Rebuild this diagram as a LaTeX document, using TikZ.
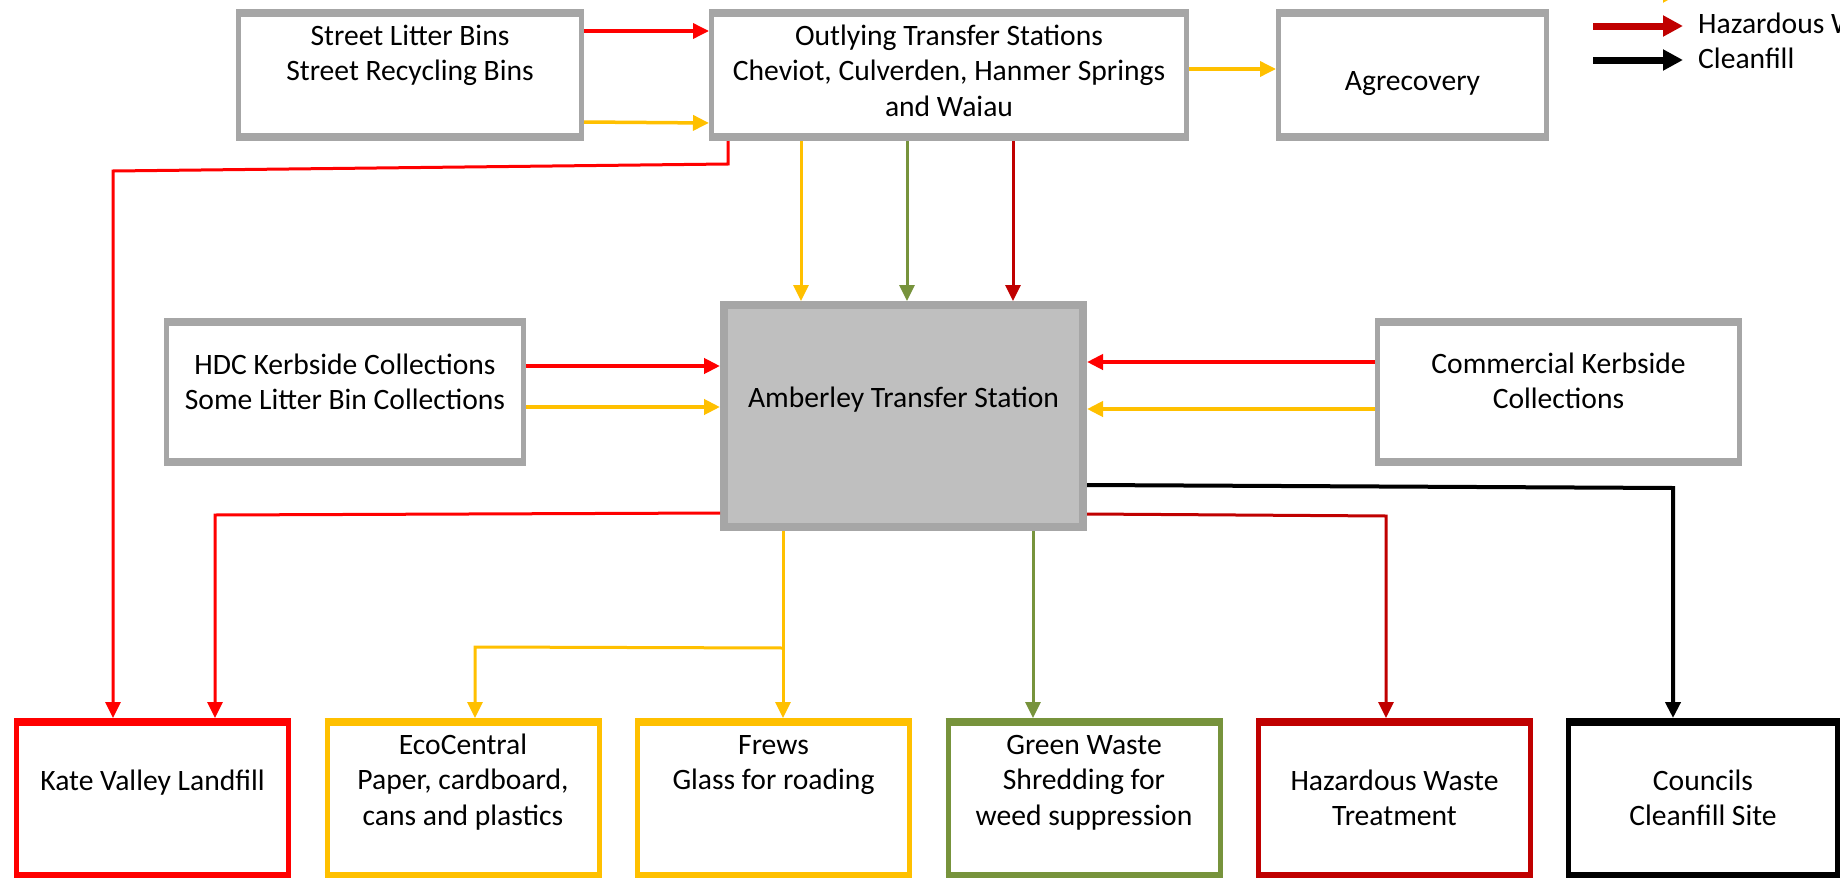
\documentclass[tikz,border=0pt]{standalone}
\usepackage{fontspec}
\setmainfont{Carlito}
\usetikzlibrary{arrows.meta}
\definecolor{boxgray}{HTML}{A6A6A6}
\definecolor{amberfill}{HTML}{BFBFBF}
\definecolor{redA}{HTML}{FF0000}
\definecolor{yelA}{HTML}{FFC000}
\definecolor{grnA}{HTML}{77933C}
\definecolor{dredA}{HTML}{C00000}
\tikzset{
  bars/.style={append after command={
    ([yshift=-4pt]\tikzlastnode.north west) edge[draw=#1,line width=8pt] ([yshift=-4pt]\tikzlastnode.north east)
    ([yshift=4pt]\tikzlastnode.south west) edge[draw=#1,line width=8pt] ([yshift=4pt]\tikzlastnode.south east)}},
  box/.style={rectangle, draw=#1, line width=5pt, inner sep=0pt, outer xsep=2.5pt, outer ysep=4pt, bars=#1},
  hubbox/.style={rectangle, draw=boxgray, fill=amberfill, line width=8pt, inner sep=0pt, outer sep=4pt},
  txt/.style={font=\fontsize{29.6pt}{35.5pt}\selectfont, align=center, inner sep=0pt, anchor=base},
  conn/.style={draw=#1, line width=3pt, -{Triangle[length=16pt,width=15pt]}},
  thick conn/.style={draw=#1, line width=4pt, -{Triangle[length=16pt,width=15pt]}},
  legarrow/.style={draw=#1, line width=7pt, -{Triangle[length=20pt,width=20pt]}}
}
\begin{document}
\begin{tikzpicture}[x=1pt,y=-1pt]
\useasboundingbox (0,0) rectangle (1840,878);
\fill[white] (0,0) rectangle (1840,878);
\clip (0,0) rectangle (1840,878);

% top row (text nodes: anchor base = baseline of last line)
\node[box=boxgray, minimum width=343pt, minimum height=124pt] (street) at (410,75) {};
\node[txt] (streetT) at (410,80.5) {Street Litter Bins\\Street Recycling Bins};
\node[box=boxgray, minimum width=475pt, minimum height=124pt] (outlying) at (949,75) {};
\node[txt] (outlyingT) at (949,116) {Outlying Transfer Stations\\Cheviot, Culverden, Hanmer Springs\\and Waiau};
\node[box=boxgray, minimum width=268pt, minimum height=124pt] (agre) at (1412.5,75) {};
\node[txt] (agreT) at (1412.5,90) {Agrecovery};

% middle row
\node[box=boxgray, minimum width=357pt, minimum height=140pt] (hdc) at (345,392) {};
\node[txt] (hdcT) at (345,409.5) {HDC Kerbside Collections\\Some Litter Bin Collections};
\node[hubbox, minimum width=359pt, minimum height=222pt] (amb) at (903.5,416) {};
\node[txt] (ambT) at (903.5,407) {Amberley Transfer Station};
\node[box=boxgray, minimum width=362pt, minimum height=140pt] (comm) at (1558.5,392) {};
\node[txt] (commT) at (1558.5,408.5) {Commercial Kerbside\\Collections};

% bottom row
\node[box=redA, minimum width=272pt, minimum height=154pt] (kate) at (152.5,799) {};
\node[txt] (kateT) at (152.5,790) {Kate Valley Landfill};
\node[box=yelA, minimum width=272pt, minimum height=154pt] (eco) at (463,799) {};
\node[txt] (ecoT) at (463,825) {EcoCentral\\Paper, cardboard,\\cans and plastics};
\node[box=yelA, minimum width=272pt, minimum height=154pt] (frews) at (773.5,799) {};
\node[txt] (frewsT) at (773.5,789.5) {Frews\\Glass for roading};
\node[box=grnA, minimum width=272pt, minimum height=154pt] (green) at (1084,799) {};
\node[txt] (greenT) at (1084,825) {Green Waste\\Shredding for\\weed suppression};
\node[box=dredA, minimum width=272pt, minimum height=154pt] (haz) at (1394.5,799) {};
\node[txt] (hazT) at (1394.5,825.5) {Hazardous Waste\\Treatment};
\node[box=black, minimum width=269pt, minimum height=154pt] (coun) at (1703,799) {};
\node[txt] (counT) at (1703,825.5) {Councils\\Cleanfill Site};

% connectors top
\draw[conn=redA, line width=3.5pt] (street.east |- 0,31) -- (outlying.west |- 0,31);
\draw[conn=yelA, line width=3.5pt] (street.east |- 0,122) -- (outlying.west |- 0,123);
\draw[conn=yelA, line width=3.5pt] (outlying.east |- 0,69) -- (agre.west |- 0,69);
\coordinate (kA) at (728,164);
\coordinate (kB) at (113,171);
\draw[conn=redA] (outlying.south -| 728,0) -- (kA) -- (kB) -- (kate.north -| 113,0);
\draw[conn=yelA] (outlying.south -| 801,0) -- (amb.north -| 801,0);
\draw[conn=grnA] (outlying.south -| 907,0) -- (amb.north -| 907,0);
\draw[conn=dredA] (outlying.south -| 1013,0) -- (amb.north -| 1013,0);

% connectors middle
\draw[thick conn=redA] (hdc.east |- 0,366) -- (amb.west |- 0,366);
\draw[thick conn=yelA] (hdc.east |- 0,407) -- (amb.west |- 0,407);
\draw[thick conn=redA] (comm.west |- 0,362) -- (amb.east |- 0,362);
\draw[thick conn=yelA] (comm.west |- 0,409) -- (amb.east |- 0,409);

% connectors bottom
\coordinate (lA) at (215,515);
\draw[conn=redA] (amb.west |- 0,513) -- (lA) -- (kate.north -| 215,0);
\draw[conn=yelA] (amb.south -| 783,0) -- (frews.north -| 783,0);
\coordinate (br) at (783,648);
\coordinate (eA) at (475,647);
\draw[conn=yelA] (br) -- (eA) -- (eco.north -| 475,0);
\draw[conn=grnA] (amb.south -| 1033,0) -- (green.north -| 1033,0);
\coordinate (hA) at (1386,516);
\draw[conn=dredA] (amb.east |- 0,514) -- (hA) -- (haz.north -| 1386,0);
\coordinate (cA) at (1673,488);
\draw[thick conn=black] (amb.east |- 0,485) -- (cA) -- (coun.north -| 1673,0);

% legend
\coordinate (lg0s) at (1593,-8);
\coordinate (lg0e) at (1683,-8);
\coordinate (lg1s) at (1593,26);
\coordinate (lg1e) at (1683,26);
\coordinate (lg2s) at (1593,60);
\coordinate (lg2e) at (1683,60);
\draw[legarrow=yelA] (lg0s) -- (lg0e);
\draw[legarrow=dredA] (lg1s) -- (lg1e);
\draw[legarrow=black] (lg2s) -- (lg2e);
\node[txt, anchor=base west] (leg1) at (1698,33) {Hazardous Waste};
\node[txt, anchor=base west] (leg2) at (1698,68) {Cleanfill};
\end{tikzpicture}
\end{document}
